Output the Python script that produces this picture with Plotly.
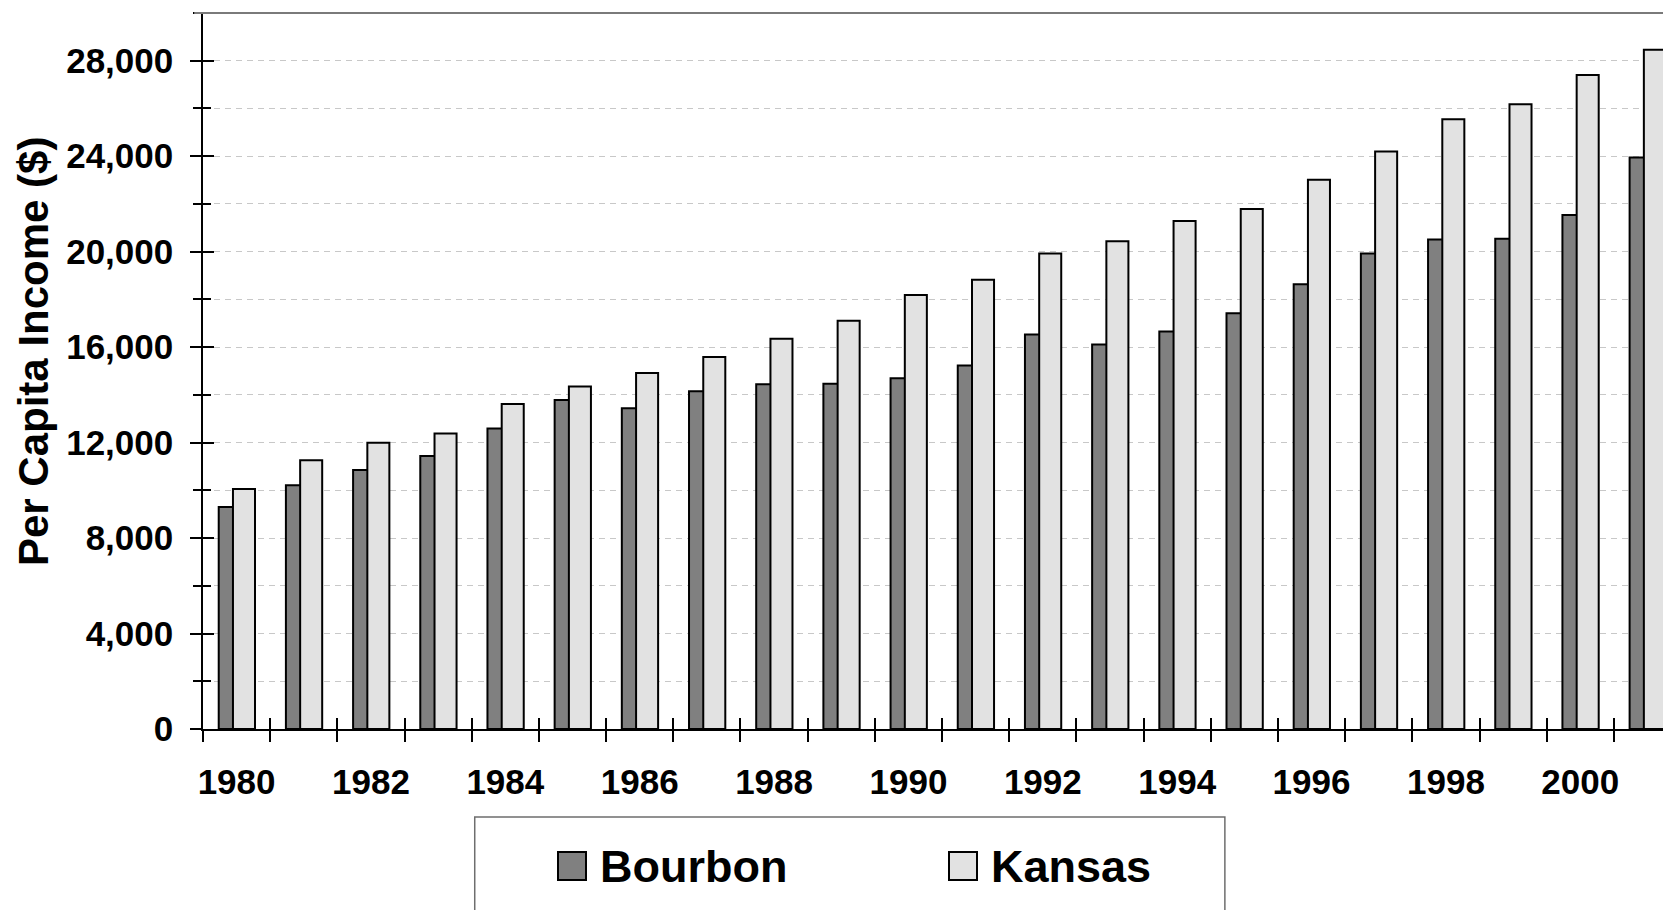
import plotly.graph_objects as go

# Per capita income, Bourbon County vs. state of Kansas
years = [str(y) for y in range(1980, 2002)]
bourbon = [9300, 10210, 10850, 11440, 12590, 13780, 13440, 14150, 14450, 14470, 14700,
           15230, 16530, 16110, 16650, 17420, 18640, 19920, 20510, 20540, 21540, 23950]
kansas = [10060, 11260, 11990, 12380, 13620, 14350, 14920, 15590, 16350, 17110, 18180,
          18820, 19920, 20440, 21290, 21790, 23010, 24200, 25550, 26180, 27400, 28460]
year_labels = [y if int(y) % 2 == 0 else "" for y in years]

series_names = ["Bourbon", "Kansas"]
series_colors = ["#808080", "#e2e2e2"]

FONT = "Liberation Sans, Arial, sans-serif"
BAR_WIDTH = 0.328

fig = go.Figure()

# Bourbon bar sits behind, Kansas overlaps it on a matched overlay subplot
fig.add_trace(
    go.Bar(
        x=years,
        y=bourbon,
        name=series_names[0],
        width=BAR_WIDTH,
        offset=-0.266,
        marker=dict(color=series_colors[0], line=dict(color="black", width=2)),
        showlegend=False,
    )
)
fig.add_trace(
    go.Bar(
        x=years,
        y=kansas,
        name=series_names[1],
        width=BAR_WIDTH,
        offset=-0.054,
        marker=dict(color=series_colors[1], line=dict(color="black", width=2)),
        xaxis="x2",
        yaxis="y2",
        showlegend=False,
    )
)

tickfont = dict(family=FONT, size=35, color="black", weight="bold")

# the page body adds 8px on the left/top, margins account for it
fig.update_layout(
    width=1671,
    height=910,
    margin=dict(l=195, r=8, t=5, b=189, autoexpand=False),
    paper_bgcolor="white",
    plot_bgcolor="white",
    barmode="overlay",
    font=dict(family=FONT, color="black"),
    xaxis=dict(
        type="category",
        range=[-0.5, 21.35],
        tickvals=years,
        ticktext=year_labels,
        tickson="boundaries",
        tickangle=0,
        ticks="outside",
        ticklen=11,
        tickwidth=1.5,
        tickcolor="black",
        showline=True,
        linecolor="black",
        linewidth=2,
        showgrid=False,
        tickfont=tickfont,
        ticklabelstandoff=21,
        automargin=False,
    ),
    xaxis2=dict(
        type="category",
        overlaying="x",
        matches="x",
        anchor="y2",
        tickvals=years,
        tickson="boundaries",
        ticks="inside",
        ticklen=11,
        tickwidth=1.5,
        tickcolor="black",
        showticklabels=False,
        showline=False,
        showgrid=False,
        automargin=False,
    ),
    yaxis=dict(
        range=[0, 30000],
        dtick=4000,
        tickformat=",d",
        ticks="outside",
        ticklen=11,
        tickwidth=1.5,
        tickcolor="black",
        showline=True,
        linecolor="black",
        linewidth=1.5,
        showgrid=True,
        gridcolor="#c8c8c8",
        gridwidth=1,
        griddash="6px,5px",
        minor=dict(
            dtick=2000,
            ticks="outside",
            ticklen=8,
            tickwidth=1.5,
            tickcolor="black",
            showgrid=True,
            gridcolor="#c8c8c8",
            gridwidth=1,
            griddash="6px,5px",
        ),
        zeroline=False,
        tickfont=tickfont,
        ticklabelstandoff=10,
        automargin=False,
    ),
    yaxis2=dict(
        overlaying="y",
        matches="y",
        anchor="x2",
        dtick=4000,
        ticks="inside",
        ticklen=11,
        tickwidth=1.5,
        tickcolor="black",
        minor=dict(dtick=2000, ticks="inside", ticklen=8, tickwidth=1.5, tickcolor="black"),
        showticklabels=False,
        showline=False,
        showgrid=False,
        zeroline=False,
        automargin=False,
    ),
)

# y axis title (sits a little above the plot centre in the original)
fig.add_annotation(
    xref="paper", yref="paper", x=-0.1158, y=0.5265,
    xanchor="center", yanchor="middle", textangle=-90,
    text="Per Capita Income ($)", showarrow=False,
    font=dict(family=FONT, size=42, color="black", weight="bold"),
)

# gray top border of the plot area
fig.add_shape(
    type="line", xref="paper", yref="paper",
    x0=-0.006, x1=1, y0=1, y1=1,
    line=dict(color="#7a7a7a", width=2),
)

# legend box, running off the bottom of the page as in the original
fig.add_shape(
    type="rect", xref="paper", yref="paper",
    x0=0.1851, x1=0.6961, y0=-0.1229, y1=-0.30,
    line=dict(color="#6e6e6e", width=1.5),
    fillcolor="rgba(0,0,0,0)",
)

swatch_x = [0.2411, 0.5072]
label_x = [0.2688, 0.5351]
for name, color, sx, lx in zip(series_names, series_colors, swatch_x, label_x):
    fig.add_annotation(
        xref="paper", yref="paper", x=sx, y=-0.1917,
        xanchor="left", yanchor="middle",
        text=" ", showarrow=False,
        width=26, height=26, borderpad=0,
        bgcolor=color, bordercolor="black", borderwidth=2,
    )
    fig.add_annotation(
        xref="paper", yref="paper", x=lx, y=-0.1917,
        xanchor="left", yanchor="middle",
        text=name, showarrow=False,
        font=dict(family=FONT, size=45, color="black", weight="bold"),
    )

fig.write_html("out.html")
